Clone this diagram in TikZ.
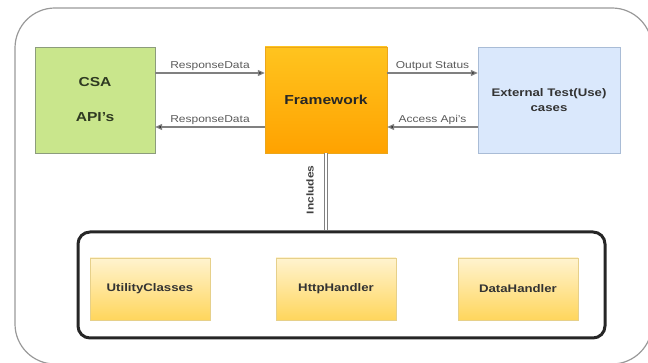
\documentclass[tikz,border=0pt]{standalone}
\usepackage{fontspec}
\setmainfont[FakeStretch=1.2]{Liberation Sans}
\usepackage{xcolor}
\usepackage{tikz}
\usetikzlibrary{arrows.meta,positioning,calc}
\definecolor{csaFill}{HTML}{C9E68C}
\definecolor{csaLine}{HTML}{8C9C7C}
\definecolor{csaInk}{HTML}{2F3A22}
\definecolor{fwTop}{HTML}{FFC41F}
\definecolor{fwBot}{HTML}{FFA200}
\definecolor{fwLine}{HTML}{EBA61C}
\definecolor{extFill}{HTML}{DAE8FC}
\definecolor{extLine}{HTML}{A9BCD6}
\definecolor{modTop}{HTML}{FFF3CF}
\definecolor{modBot}{HTML}{FFD65C}
\definecolor{modLine}{HTML}{E6D08A}
\definecolor{flowGray}{HTML}{808080}
\definecolor{lblGray}{HTML}{5A5A5A}

\begin{document}
\begin{tikzpicture}[
  x=1pt,y=-1pt,
  box/.style={rectangle,minimum height=106pt,align=center,inner sep=0pt},
  modbox/.style={rectangle,draw=modLine,top color=modTop,bottom color=modBot,
    minimum width=120pt,minimum height=62pt,font=\fontsize{11}{13}\selectfont\bfseries,
    text=black!80},
  flow/.style={draw=flowGray,line width=1.2pt,-{Triangle[length=7pt,width=6pt,fill=black!80]}},
  lbl/.style={font=\fontsize{10}{12}\selectfont,text=lblGray,inner sep=1.5pt,above}
]
  \useasboundingbox (0,0) rectangle (648,363);
  % outer frame
  \draw[black!40,line width=1.2pt,rounded corners=40pt] (15,8) rectangle (652,364);

  % top row
  \node[box,draw=csaLine,fill=csaFill,minimum width=120pt,text=csaInk,
    font=\fontsize{13}{15}\selectfont\bfseries] (csa) at (95,100) {CSA\\[20pt]API's};
  \node[box,draw=fwLine,top color=fwTop,bottom color=fwBot,minimum width=122pt,
    text=black!85,font=\fontsize{13}{15}\selectfont\bfseries] (fw) at (326,100) {Framework};
  \node[box,draw=extLine,fill=extFill,minimum width=142pt,text=black!80,
    font=\fontsize{11}{15}\selectfont\bfseries] (ext) at (549,100) {External Test(Use)\\cases};

  \draw[flow] ([yshift=27pt]csa.east) -- node[lbl] {ResponseData} ([yshift=27pt]fw.west);
  \draw[flow] ([yshift=-27pt]fw.west) -- node[lbl] {ResponseData} ([yshift=-27pt]csa.east);
  \draw[flow] ([yshift=27pt]fw.east) -- node[lbl] {Output Status} ([yshift=27pt]ext.west);
  \draw[flow] ([yshift=-27pt]ext.west) -- node[lbl] {Access Api's} ([yshift=-27pt]fw.east);

  % library block
  \node[draw=black!85,line width=3pt,rounded corners=12pt,minimum width=527pt,
    minimum height=106pt] (lib) at (341.5,285) {};
  \node[modbox] (util) at (150,289) {UtilityClasses};
  \node[modbox] (http) at (336,289) {HttpHandler};
  \node[modbox] (data) at (518,289) {DataHandler};

  \draw[flowGray,line width=.8pt,double,double distance=1.6pt] (fw.south) --
    node[rotate=90,anchor=south,inner sep=0pt,xshift=2pt,yshift=12pt,
      font=\fontsize{10}{12}\selectfont\bfseries,text=black!75] {Includes}
    (fw.south |- lib.north);
\end{tikzpicture}
\end{document}
